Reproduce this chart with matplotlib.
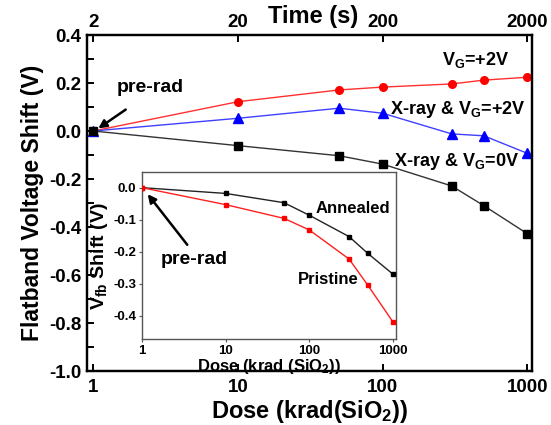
import matplotlib
matplotlib.use("Agg")
import matplotlib.pyplot as plt
from matplotlib.ticker import FixedLocator, NullLocator, MultipleLocator

plt.rcParams['font.family'] = ['Liberation Sans', 'DejaVu Sans']
plt.rcParams['font.weight'] = 'bold'
plt.rcParams['axes.unicode_minus'] = False
plt.rcParams['mathtext.fontset'] = 'custom'
plt.rcParams['mathtext.rm'] = 'Liberation Sans:bold'
plt.rcParams['mathtext.it'] = 'Liberation Sans:bold'
plt.rcParams['mathtext.bf'] = 'Liberation Sans:bold'

# ---- data (main) ----
dose = [1, 10, 50, 100, 300, 500, 1000]
vg_plus2 = [0.0, 0.122, 0.171, 0.183, 0.196, 0.212, 0.224]
xray_vg_plus2 = [0.0, 0.053, 0.095, 0.074, -0.012, -0.020, -0.093]
xray_vg_0 = [0.0, -0.061, -0.103, -0.138, -0.229, -0.311, -0.428]

# ---- data (inset) ----
inset_dose = [1, 10, 50, 100, 300, 500, 1000]
annealed = [0.0, -0.018, -0.047, -0.086, -0.153, -0.205, -0.270]
pristine = [0.0, -0.053, -0.096, -0.132, -0.223, -0.304, -0.419]

main_xticks = [1, 10, 100, 1000]
main_xticklabels = ['1', '10', '100', '1000']
time_ticks = [2, 20, 200, 2000]
time_ticklabels = ['2', '20', '200', '2000']
main_yticks = [0.4, 0.2, 0.0, -0.2, -0.4, -0.6, -0.8, -1.0]
inset_yticks = [0.0, -0.1, -0.2, -0.3, -0.4]

W, H = 551, 425
fig = plt.figure(figsize=(W / 100, H / 100), dpi=100)

def rect(l, t, r, b):
    return [l / W, 1 - b / H, (r - l) / W, (b - t) / H]

ax = fig.add_axes(rect(87.3, 35, 531.7, 371))
ax.set_xscale('log')
xlim = (0.909, 1072)
ax.set_xlim(*xlim)
ax.set_ylim(-1.0, 0.4)

ax.plot(dose, vg_plus2, '-', color='#ff3030', lw=1.0, zorder=3)
ax.plot(dose, vg_plus2, 'o', color='#ff0000', ms=5.5, zorder=4)
ax.plot(dose, xray_vg_plus2, '-', color='#4040ff', lw=1.0, zorder=3)
ax.plot(dose, xray_vg_plus2, '^', color='#0000ff', ms=6.5, zorder=4)
ax.plot(dose, xray_vg_0, '-', color='#333333', lw=1.0, zorder=3)
ax.plot(dose, xray_vg_0, 's', color='#000000', ms=5.5, zorder=4)

for s in ax.spines.values():
    s.set_linewidth(1.6)

ax.xaxis.set_major_locator(FixedLocator(main_xticks))
ax.xaxis.set_minor_locator(NullLocator())
ax.set_xticklabels(main_xticklabels, fontsize=13.5, fontweight='bold')
ax.set_yticks(main_yticks)
ax.set_yticklabels([f'{v:.1f}' for v in main_yticks], fontsize=13.5, fontweight='bold')
ax.yaxis.set_minor_locator(MultipleLocator(0.1))
ax.tick_params(axis='both', which='both', direction='in', length=5, width=1.4)
ax.tick_params(axis='x', pad=6)
ax.tick_params(axis='y', pad=4)

ax.set_xlabel('Dose (krad(SiO$_2$))', fontsize=17, fontweight='bold', labelpad=1)
ax.set_ylabel('Flatband Voltage Shift (V)', fontsize=16.5, fontweight='bold', labelpad=4)

# top axis: time
ax2 = ax.twiny()
ax2.set_xscale('log')
ax2.set_xlim(xlim[0] * 2, xlim[1] * 2)
ax2.xaxis.set_major_locator(FixedLocator(time_ticks))
ax2.xaxis.set_minor_locator(NullLocator())
ax2.set_xticklabels(time_ticklabels, fontsize=13.5, fontweight='bold')
ax2.tick_params(axis='x', which='both', direction='in', length=5, width=1.4, pad=3)
for s in ax2.spines.values():
    s.set_linewidth(1.6)
fig.text(313 / W, 1 - 17 / H, 'Time (s)', fontsize=17, fontweight='bold',
         ha='center', va='center')

# annotations main
ax.text(476 / W, 1 - 60 / H, 'V$_G$=+2V', transform=fig.transFigure, fontsize=13,
        ha='center', va='center', fontweight='bold')
ax.text(458 / W, 1 - 110 / H, 'X-ray & V$_G$=+2V', transform=fig.transFigure, fontsize=13,
        ha='center', va='center', fontweight='bold')
ax.text(456 / W, 1 - 162 / H, 'X-ray & V$_G$=0V', transform=fig.transFigure, fontsize=13,
        ha='center', va='center', fontweight='bold')
ax.text(150 / W, 1 - 88 / H, 'pre-rad', transform=fig.transFigure, fontsize=14,
        ha='center', va='center', fontweight='bold')
ax.annotate('', xy=(96 / W, 1 - 130 / H), xytext=(128 / W, 1 - 108 / H),
            xycoords='figure fraction', textcoords='figure fraction',
            arrowprops=dict(arrowstyle='-|>', color='black', lw=1.8, mutation_scale=12))

# ---- inset ----
ins = fig.add_axes(rect(141.7, 172.3, 396, 339))
ins.set_xscale('log')
ins.set_xlim(0.995, 1092)
ins.set_ylim(-0.473, 0.048)
ins.plot(inset_dose, annealed, '-', color='#222222', lw=1.0, zorder=3)
ins.plot(inset_dose, annealed, 's', color='#000000', ms=3, zorder=4)
ins.plot(inset_dose, pristine, '-', color='#ff2020', lw=1.0, zorder=3)
ins.plot(inset_dose, pristine, 's', color='#ff0000', ms=3, zorder=4)
for s in ins.spines.values():
    s.set_linewidth(1.0)
    s.set_color('#555555')
ins.xaxis.set_major_locator(FixedLocator(main_xticks))
ins.xaxis.set_minor_locator(NullLocator())
ins.set_xticklabels(main_xticklabels, fontsize=9.5, fontweight='bold')
ins.set_yticks(inset_yticks)
ins.set_yticklabels([f'{v:.1f}' for v in inset_yticks], fontsize=9.5, fontweight='bold')
ins.tick_params(axis='both', which='both', direction='out', length=2, width=0.8,
                color='#555555', pad=2)
ins.set_xlabel('Dose (krad (SiO$_2$))', fontsize=12, fontweight='bold', labelpad=0)
ins.set_ylabel('V$_{fb}$ Shift (V)', fontsize=14, fontweight='bold', labelpad=2)
ins.text(353 / W, 1 - 209 / H, 'Annealed', transform=fig.transFigure, fontsize=12,
         ha='center', va='center', fontweight='bold')
ins.text(328 / W, 1 - 280 / H, 'Pristine', transform=fig.transFigure, fontsize=12,
         ha='center', va='center', fontweight='bold')
ins.text(194 / W, 1 - 260 / H, 'pre-rad', transform=fig.transFigure, fontsize=14,
         ha='center', va='center', fontweight='bold')
ins.annotate('', xy=(146 / W, 1 - 192 / H), xytext=(189 / W, 1 - 247 / H),
             xycoords='figure fraction', textcoords='figure fraction',
             arrowprops=dict(arrowstyle='-|>', color='black', lw=1.8, mutation_scale=12))

fig.savefig('out.png', dpi=100)
